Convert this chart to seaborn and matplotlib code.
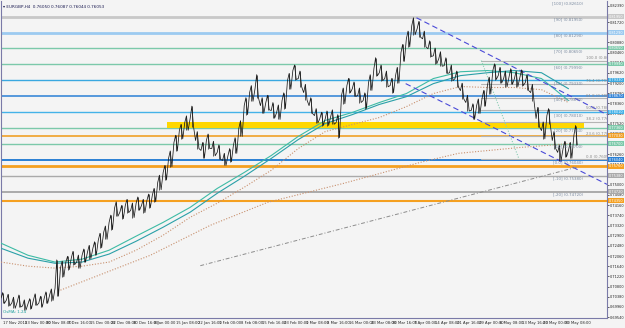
import numpy as np
import pandas as pd
import matplotlib
matplotlib.use("Agg")
import matplotlib.pyplot as plt
import seaborn as sns

# ---- dados ----
passo = 8  # barras H4 por amostra
preco_mid = [0.7032, 0.7024, 0.7012, 0.7016, 0.7000, 0.7008, 0.7024, 0.7012, 0.7032, 0.7045,
             0.7073, 0.7156, 0.7181, 0.7197, 0.7181, 0.7209, 0.7222, 0.7238, 0.7271, 0.7304,
             0.7345, 0.7403, 0.7387, 0.7415, 0.7395, 0.7424, 0.7415, 0.7436, 0.7457, 0.7510,
             0.7551, 0.7609, 0.7675, 0.7724, 0.7757, 0.7774, 0.7683, 0.7642, 0.7683, 0.7650,
             0.7634, 0.7601, 0.7621, 0.7663, 0.7733, 0.7827, 0.7881, 0.7897, 0.7827, 0.7840,
             0.7807, 0.7799, 0.7848, 0.7930, 0.7972, 0.7939, 0.7881, 0.7827, 0.7786, 0.7774,
             0.7774, 0.7782, 0.7757, 0.7869, 0.7910, 0.7897, 0.7869, 0.7848, 0.7922, 0.7980,
             0.7963, 0.7939, 0.7910, 0.7951, 0.8046, 0.8103, 0.8157, 0.8145, 0.8103, 0.8062,
             0.8033, 0.8021, 0.7992, 0.7963, 0.7939, 0.7889, 0.7840, 0.7807, 0.7827, 0.7856,
             0.7910, 0.7972, 0.7951, 0.7939, 0.7947, 0.7939, 0.7943, 0.7922, 0.7881, 0.7774,
             0.7724, 0.7786, 0.7683, 0.7634, 0.7650, 0.7642, 0.7704]
preco_max = [0.7055, 0.7048, 0.7036, 0.7045, 0.7025, 0.7030, 0.7050, 0.7040, 0.7058, 0.7070,
             0.7190, 0.7185, 0.7205, 0.7225, 0.7210, 0.7235, 0.7250, 0.7265, 0.7300, 0.7330,
             0.7375, 0.7430, 0.7415, 0.7440, 0.7425, 0.7450, 0.7440, 0.7462, 0.7485, 0.7540,
             0.7580, 0.7640, 0.7705, 0.7750, 0.7785, 0.7825, 0.7720, 0.7675, 0.7710, 0.7680,
             0.7665, 0.7630, 0.7650, 0.7695, 0.7765, 0.7860, 0.7910, 0.7955, 0.7860, 0.7870,
             0.7840, 0.7830, 0.7880, 0.7960, 0.7995, 0.7970, 0.7915, 0.7860, 0.7815, 0.7800,
             0.7805, 0.7810, 0.7790, 0.7900, 0.7940, 0.7925, 0.7900, 0.7880, 0.7955, 0.8025,
             0.7995, 0.7970, 0.7940, 0.7985, 0.8080, 0.8135, 0.8190, 0.8175, 0.8135, 0.8095,
             0.8065, 0.8050, 0.8025, 0.7995, 0.7970, 0.7920, 0.7870, 0.7835, 0.7855, 0.7890,
             0.7945, 0.8000, 0.7985, 0.7970, 0.7980, 0.7970, 0.7975, 0.7955, 0.7915, 0.7820,
             0.7760, 0.7815, 0.7720, 0.7665, 0.7680, 0.7675, 0.7745]
preco_min = [0.7010, 0.7000, 0.6990, 0.6995, 0.6983, 0.6988, 0.7002, 0.6995, 0.7010, 0.7022,
             0.7040, 0.7120, 0.7150, 0.7170, 0.7155, 0.7180, 0.7195, 0.7210, 0.7240, 0.7275,
             0.7315, 0.7370, 0.7360, 0.7385, 0.7365, 0.7395, 0.7385, 0.7405, 0.7430, 0.7480,
             0.7520, 0.7575, 0.7640, 0.7690, 0.7725, 0.7740, 0.7650, 0.7610, 0.7650, 0.7620,
             0.7605, 0.7580, 0.7595, 0.7630, 0.7700, 0.7790, 0.7845, 0.7860, 0.7795, 0.7810,
             0.7775, 0.7770, 0.7815, 0.7895, 0.7935, 0.7905, 0.7850, 0.7795, 0.7755, 0.7745,
             0.7745, 0.7750, 0.7695, 0.7835, 0.7880, 0.7865, 0.7840, 0.7815, 0.7890, 0.7950,
             0.7930, 0.7905, 0.7880, 0.7920, 0.8010, 0.8070, 0.8120, 0.8110, 0.8070, 0.8030,
             0.8000, 0.7990, 0.7960, 0.7930, 0.7905, 0.7855, 0.7805, 0.7770, 0.7795, 0.7825,
             0.7875, 0.7935, 0.7920, 0.7905, 0.7915, 0.7905, 0.7910, 0.7890, 0.7845, 0.7740,
             0.7690, 0.7750, 0.7650, 0.7600, 0.7615, 0.7610, 0.7665]

# medias moveis, uma amostra a cada 40 barras
ma_passo = 40
ma_verde1 = [0.7259, 0.7209, 0.7181, 0.7193, 0.7230, 0.7288, 0.7345, 0.7407, 0.7485, 0.7551, 0.7621,
             0.7700, 0.7766, 0.7799, 0.7840, 0.7877, 0.7939, 0.7967, 0.7972, 0.7963, 0.7939, 0.7848]
ma_verde2 = [0.7238, 0.7197, 0.7176, 0.7181, 0.7214, 0.7267, 0.7325, 0.7387, 0.7465, 0.7535, 0.7609,
             0.7687, 0.7753, 0.7790, 0.7832, 0.7864, 0.7918, 0.7951, 0.7963, 0.7972, 0.7963, 0.7897]
ma_marrom = [0.7181, 0.7164, 0.7156, 0.7164, 0.7181, 0.7230, 0.7292, 0.7366, 0.7424, 0.7490, 0.7560,
             0.7650, 0.7720, 0.7749, 0.7778, 0.7823, 0.7877, 0.7906, 0.7902, 0.7902, 0.7893, 0.7840]
ma_lenta_barras = [88, 221, 310, 395, 507, 621, 677, 767, 845]
ma_lenta = [0.7065, 0.7209, 0.7333, 0.7428, 0.7506, 0.7593, 0.7630, 0.7654, 0.7671]

# linhas horizontais (fibo expansion + niveis)
niveis = [0.8195, 0.8129, 0.8065, 0.7999, 0.7933, 0.7867, 0.7801, 0.7736, 0.7703, 0.7670,
          0.7604, 0.7576, 0.7538, 0.7472, 0.7435]
niveis_cor = ['#c8c8c8', '#9ccaf0', '#7cc9aa', '#7cc9aa', '#3aa8e0', '#3a88d8', '#44b2e8', '#7cc9aa',
              '#f0a028', '#7cc9aa', '#2a7fd4', '#f5a020', '#aaaaaa', '#aaaaaa', '#f5a020']
niveis_lw = [2.0, 2.0, 1.0, 1.0, 1.0, 1.2, 1.0, 1.0, 1.2, 1.0, 1.4, 2.0, 1.0, 1.4, 1.5]
fibo_pct = ['100', '90', '80', '70', '60', '50', '40', '30', '20', '10', '0.0', '-10', '-20']
fibo_preco = [0.8261, 0.8195, 0.8129, 0.8065, 0.7999, 0.7933, 0.7867, 0.7801, 0.7736, 0.7670,
              0.7604, 0.7538, 0.7472]

# fibo retracement (cinza)
retr_pct = [100.0, 76.4, 61.8, 50.0, 38.2, 23.6, 0.0]
retr_preco = [0.8013, 0.7917, 0.7857, 0.7809, 0.7761, 0.7701, 0.7605]
retr_inicio = 711

# faixa amarela de suporte
faixa_barras = [246, 863]
faixa_preco = [0.7736, 0.7760]

# linhas de tendencia (barra, preco)
canal_sup = ([615, 897], [0.8190, 0.7790])
canal_inf = ([599, 897], [0.7918, 0.7502])
tend_cinza = ([295, 855], [0.7166, 0.7575])
fibo_diag = ([711, 767], [0.8013, 0.7605])

eixo_precos = [0.69540, 0.69960, 0.70380, 0.70800, 0.71220, 0.71640, 0.72060, 0.72480, 0.72900,
               0.73320, 0.73740, 0.74160, 0.74580, 0.75000, 0.75420, 0.75840, 0.76260, 0.76680,
               0.77100, 0.77520, 0.77940, 0.78360, 0.78780, 0.79200, 0.79620, 0.80040, 0.80460,
               0.80880, 0.81300, 0.81720, 0.82390]
datas = ['17 Nov 2015', '23 Nov 00:00', '30 Nov 08:00', '7 Dec 16:00', '15 Dec 00:00', '22 Dec 08:00',
         '30 Dec 16:00', '8 Jan 00:00', '15 Jan 08:00', '22 Jan 16:00', '1 Feb 00:00', '8 Feb 08:00',
         '15 Feb 16:00', '23 Feb 00:00', '1 Mar 08:00', '8 Mar 16:00', '16 Mar 00:00', '23 Mar 08:00',
         '30 Mar 16:00', '7 Apr 00:00', '14 Apr 08:00', '21 Apr 16:00', '29 Apr 00:00', '6 May 08:00',
         '13 May 16:00', '23 May 00:00', '30 May 08:00']

# ---- grafico ----
sns.set_style("white")
plt.rcParams['font.family'] = ['Liberation Sans Narrow', 'DejaVu Sans']
fundo = '#f4f4f4'
y0, y1 = 0.6950, 0.8260

fig = plt.figure(figsize=(6.25, 3.28), dpi=100, facecolor=fundo)
ax = fig.add_axes([0.0016, 0.0305, 0.9696, 0.967])
ax.set_facecolor(fundo)

barras = np.arange(len(preco_mid)) * passo
df = pd.DataFrame({'barra': barras, 'mid': preco_mid, 'hi': preco_max, 'lo': preco_min})
ma_x = np.arange(len(ma_verde1)) * ma_passo
df_ma = pd.DataFrame({'barra': ma_x, 'v1': ma_verde1, 'v2': ma_verde2, 'm': ma_marrom})

for p, c, lw in zip(niveis, niveis_cor, niveis_lw):
    ax.axhline(p, color=c, lw=lw, zorder=1)

ax.fill_between(faixa_barras, faixa_preco[0], faixa_preco[1], color='#ffd700', lw=0, zorder=2)

for p in retr_preco:
    ax.plot([retr_inicio, 900], [p, p], color='#b4b4b4', lw=0.8, zorder=2)

sns.lineplot(data=df_ma, x='barra', y='v1', color='#3dbba5', lw=0.8, ax=ax, zorder=3)
sns.lineplot(data=df_ma, x='barra', y='v2', color='#2aa0a8', lw=0.8, ax=ax, zorder=3)
sns.lineplot(data=df_ma, x='barra', y='m', color='#c8906e', lw=0.8, ls=(0, (1, 1.5)), ax=ax, zorder=3)
sns.lineplot(x=ma_lenta_barras, y=ma_lenta, color='#c8906e', lw=0.8, ls=(0, (1, 1.5)), ax=ax, zorder=3)

ax.plot(*canal_sup, color='#4a4ad8', lw=0.8, ls=(0, (5, 3)), zorder=3)
ax.plot(*canal_inf, color='#4a4ad8', lw=0.8, ls=(0, (5, 3)), zorder=3)
ax.plot(*tend_cinza, color='#8c8c8c', lw=0.7, ls=(0, (4, 2, 1, 2)), zorder=3)
ax.plot(*fibo_diag, color='#88ccb4', lw=0.8, ls=(0, (1, 1.5)), zorder=3)

# candles: zigue-zague mid -> max -> min em cada amostra, mais a sombra
zx, zy = [], []
for b, m, h, l in zip(df['barra'], df['mid'], df['hi'], df['lo']):
    zx += [b, b + 2.5, b + 5]
    zy += [m, h, l]
ax.plot(zx, zy, color='#1a1a1a', lw=0.55, zorder=4)
ax.vlines(df['barra'] + 2.5, df['lo'], df['hi'], color='#1a1a1a', lw=0.5, zorder=4)

# rotulos fibo
for pct, p in zip(fibo_pct, fibo_preco):
    ax.text(861, p - 0.0004, f'[{pct}] ({p:.5f})', fontsize=2.8, color='#7a8aa0',
            ha='right', va='top', zorder=5)
for pct, p in zip(retr_pct, retr_preco):
    ax.text(866, p + 0.0002, f'{pct:.1f} ({p:.5f})', fontsize=2.8, color='#8a8a8a',
            ha='left', va='bottom', zorder=5, clip_on=True)

ax.set_xlim(0, 897)
ax.set_ylim(y0, y1)
ax.set_xlabel('')
ax.set_ylabel('')

ax.set_xticks([3 + 32 * i for i in range(len(datas))])
ax.set_xticklabels(datas, fontsize=2.7, ha='left')
ax.yaxis.tick_right()
ax.set_yticks(eixo_precos)
ax.set_yticklabels([f'{p:.5f}' for p in eixo_precos], fontsize=2.5)
ax.tick_params(axis='x', length=1.5, width=0.5, colors='#222222', pad=1)
ax.tick_params(axis='y', length=1.2, width=0.5, colors='#222222', pad=0.6)

for lado in ['left', 'right', 'bottom']:
    ax.spines[lado].set_color('#7a7aa8')
    ax.spines[lado].set_linewidth(0.8)
ax.spines['top'].set_visible(False)

# caixas de preco no eixo direito
for p, c in zip(niveis, niveis_cor):
    ax.text(1.003, (p - y0) / (y1 - y0), f'{p:.5f}', transform=ax.transAxes,
            fontsize=2.5, color='white', ha='left', va='center', zorder=6, clip_on=False,
            bbox=dict(boxstyle='square,pad=0.1', fc=c, ec='none'))

ax.text(0.004, 0.988, '\u25be EURGBP,H4  0.76050 0.76087 0.76044 0.76053', transform=ax.transAxes,
        fontsize=3.0, color='#1a1a50', ha='left', va='top')
ax.text(0.004, 0.012, 'OsMA: 1.24', transform=ax.transAxes, fontsize=3.0, color='#20a0a0',
        ha='left', va='bottom')

fig.savefig('out.png', dpi=100, facecolor=fundo)
